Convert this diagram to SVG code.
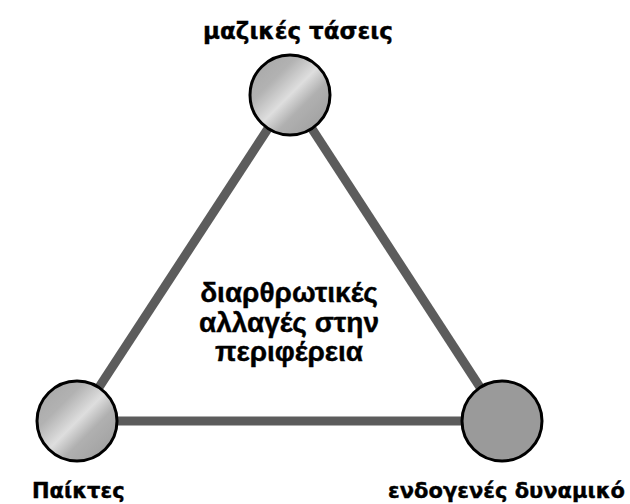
<svg xmlns="http://www.w3.org/2000/svg" width="630" height="504" viewBox="0 0 630 504">
  <style>
    .edge { stroke: #5c5c5c; stroke-width: 9; fill: none; }
    .node { stroke: #000; stroke-width: 3; }
    .lbl { font-family: "DejaVu Sans", sans-serif; font-weight: 700; font-size: 23px; fill: #000; stroke: #000; stroke-width: 0.4px; }
    .lbl-b { font-size: 21px; }
    .ctr { font-family: "Liberation Sans", Arial, sans-serif; font-weight: 700; font-size: 28px; fill: #000; stroke: #000; stroke-width: 0.4px; text-anchor: middle; }
  </style>
  <defs>
    <linearGradient id="metal" x1="0" y1="0" x2="1" y2="1">
      <stop offset="0" stop-color="#a4a4a4"/>
      <stop offset="0.3" stop-color="#b2b2b2"/>
      <stop offset="0.5" stop-color="#dedede"/>
      <stop offset="0.65" stop-color="#b0b0b0"/>
      <stop offset="1" stop-color="#9a9a9a"/>
    </linearGradient>
  </defs>
  <rect width="630" height="504" fill="#fff"/>
  <g id="connectors">
    <line class="edge" x1="290" y1="95" x2="77" y2="421"/>
    <line class="edge" x1="290" y1="95" x2="502" y2="421"/>
    <line class="edge" x1="77" y1="421" x2="502" y2="421"/>
  </g>
  <g id="node-top">
    <circle class="node" cx="290" cy="95" r="40" fill="url(#metal)"/>
    <text class="lbl" x="298" y="39" text-anchor="middle">μαζικές τάσεις</text>
  </g>
  <g id="node-left">
    <circle class="node" cx="77" cy="421" r="40" fill="url(#metal)"/>
    <text class="lbl lbl-b" x="32" y="498">Παίκτες</text>
  </g>
  <g id="node-right">
    <circle class="node" cx="502" cy="421" r="40" fill="#9a9a9a"/>
    <text class="lbl lbl-b" x="625" y="498" text-anchor="end">ενδογενές δυναμικό</text>
  </g>
  <g id="center-label">
    <text class="ctr" x="289" y="302">διαρθρωτικές</text>
    <text class="ctr" x="289" y="332">αλλαγές στην</text>
    <text class="ctr" x="289" y="361">περιφέρεια</text>
  </g>
</svg>
